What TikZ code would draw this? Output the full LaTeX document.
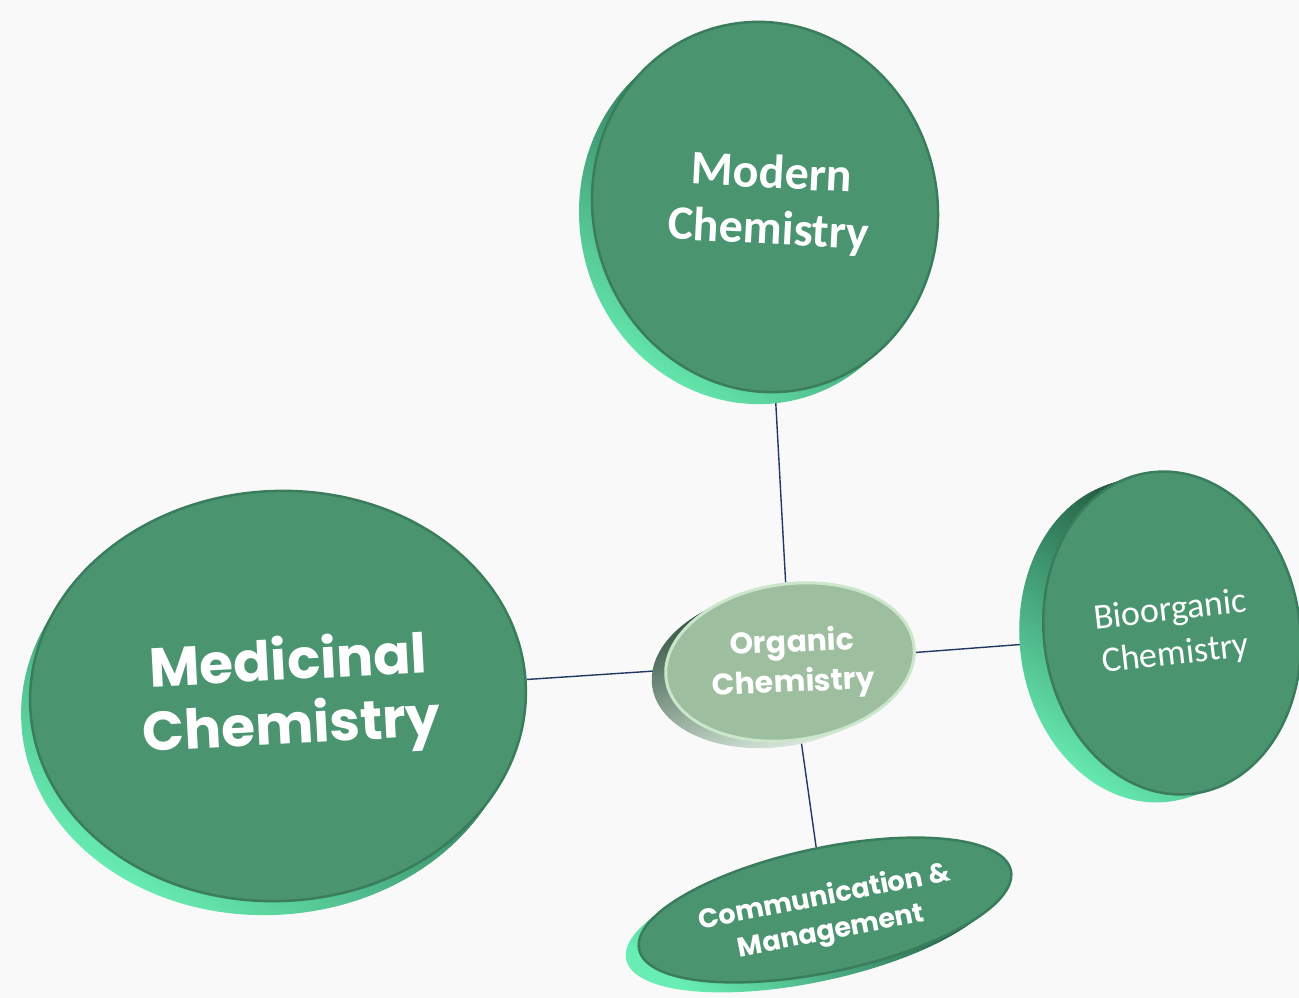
\documentclass[tikz,border=0pt]{standalone}
\usepackage{fontspec}
\setmainfont{Carlito}
\newfontfamily\geofont{Poppins}
\newfontfamily\calfont{Carlito}
\usetikzlibrary{shapes.geometric}
\pgfdeclarelayer{paperlayer}
\pgfdeclarelayer{background}
\pgfdeclarelayer{rims}
\pgfsetlayers{paperlayer,background,rims,main}
\definecolor{facegreen}{RGB}{74,148,112}
\definecolor{faceedge}{RGB}{58,125,92}
\definecolor{rimdark}{RGB}{22,62,43}
\definecolor{rimmint}{RGB}{104,238,180}
\definecolor{orgface}{RGB}{158,190,160}
\definecolor{orgedge}{RGB}{204,230,204}
\definecolor{orgrimdark}{RGB}{36,72,50}
\definecolor{orgrimlight}{RGB}{236,248,238}
\definecolor{linkblue}{RGB}{31,56,100}
\definecolor{paper}{RGB}{249,249,249}
\tikzset{
  face/.style={ellipse, inner sep=0pt, fill=facegreen, draw=faceedge, line width=2.5pt},
  rim/.style={ellipse, inner sep=0pt, top color=rimdark, bottom color=rimmint, shading angle=-35},
  orgface/.style={ellipse, inner sep=0pt, fill=orgface, draw=orgedge, line width=3pt},
  orgrim/.style={ellipse, inner sep=0pt, left color=orgrimdark, right color=orgrimlight, shading angle=20},
  label/.style={text=white, align=center, inner sep=0pt},
  link/.style={draw=linkblue, line width=1.4pt}
}
\begin{document}
\begin{tikzpicture}[x=1pt,y=-1pt]
\useasboundingbox (0,0) rectangle (1299,998);
\begin{pgfonlayer}{paperlayer}
\fill[paper] (0,0) rectangle (1299,998);
\end{pgfonlayer}

% rims: the side of each disc, swept from the face back to its offset
\begin{pgfonlayer}{rims}
\foreach \i in {1,...,8}{
  \pgfmathsetmacro{\t}{\i/8}
  \node[rim, minimum width=344pt, minimum height=372pt, rotate=15] (modrim\i) at ({765-13*\t},{207+12*\t}) {};
  \node[rim, minimum width=496pt, minimum height=410pt, rotate=3] (medrim\i) at ({278-9*\t},{696+14*\t}) {};
  \node[orgrim, minimum width=250pt, minimum height=156pt, rotate=8] (orgrim\i) at ({790-14*\t},{662+7*\t}) {};
  \node[rim, minimum width=256pt, minimum height=324pt, rotate=8] (biorim\i) at ({1172-24*\t},{633+8*\t}) {};
  \node[rim, minimum width=380pt, minimum height=124pt, rotate=12] (comrim\i) at ({825-13*\t},{910+10*\t}) {};
}
\end{pgfonlayer}

% faces
\node[face, minimum width=344pt, minimum height=372pt, rotate=15] (mod) at (765,207) {};
\node[face, minimum width=496pt, minimum height=410pt, rotate=3] (med) at (278,696) {};
\node[orgface, minimum width=250pt, minimum height=156pt, rotate=8] (org) at (790,662) {};
\node[face, minimum width=256pt, minimum height=324pt, rotate=8] (bio) at (1172,633) {};
\node[face, minimum width=380pt, minimum height=124pt, rotate=12] (com) at (825,910) {};

% labels
\node[label, font=\calfont\bfseries\fontsize{48}{56}\selectfont, rotate=-3] (modtxt) at (770,203) {Modern\\Chemistry};
\node[label, font=\geofont\bfseries\fontsize{55}{64}\selectfont, rotate=3] (medtxt) at (290,697) {Medicinal\\Chemistry};
\node[label, font=\geofont\bfseries\fontsize{30}{40}\selectfont, rotate=2.5] (orgtxt) at (793,664) {Organic\\Chemistry};
\node[label, font=\calfont\fontsize{36}{44}\selectfont, rotate=6.5] (biotxt) at (1173,633) {Bioorganic\\Chemistry};
\node[label, font=\geofont\bfseries\fontsize{27}{35}\selectfont, rotate=11] (comtxt) at (828,915) {Communication \&\\Management};

% connectors
\begin{pgfonlayer}{background}
\draw[link] (org) -- (mod);
\draw[link] (org) -- (med);
\draw[link] (org) -- (bio);
\draw[link] (org) -- (com);
\end{pgfonlayer}
\end{tikzpicture}
\end{document}
